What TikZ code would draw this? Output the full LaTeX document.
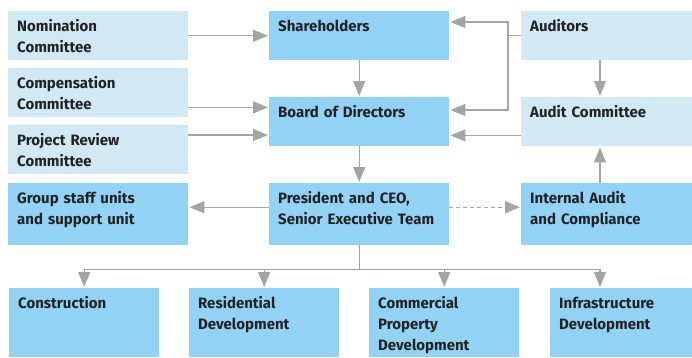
\documentclass[tikz,border=0pt]{standalone}
\usepackage{fontspec}
\setmainfont{Fira Sans}
\usetikzlibrary{arrows.meta, positioning, calc}
\definecolor{unitblue}{HTML}{92D3F5}
\definecolor{paleblue}{HTML}{D1E9F5}
\definecolor{linkgray}{HTML}{A4A4A4}
\definecolor{labelink}{HTML}{222222}

\begin{document}
\begin{tikzpicture}[
    x=1pt, y=-1pt,
    box/.style={anchor=north west, inner xsep=9pt, inner ysep=0pt, align=left, text=labelink,
        font=\bfseries\fontsize{15}{21}\selectfont, text height=20pt, text depth=29pt, text width=162pt},
    unit/.style={box, fill=unitblue},
    board/.style={box, fill=paleblue},
    tall/.style={text depth=42pt},
    leaf/.style={text depth=49pt, text width=132pt},
    link/.style={draw=linkgray, line width=1.3pt},
    arr/.style={link, -{Triangle[length=15pt, width=12pt]}, shorten >=1pt}
]
\useasboundingbox (0,0) rectangle (692,357);
\node[board] (nom) at (8,11) {Nomination\\Committee};
\node[board] (comp) at (8,68) {Compensation\\Committee};
\node[board] (prc) at (8,125) {Project Review\\Committee};
\node[unit, tall] (staff) at (8,183) {Group staff units\\and support unit};
\node[unit] (sh) at (269,11) {Shareholders};
\node[unit] (bod) at (269,97) {Board of Directors};
\node[unit, tall] (ceo) at (269,183) {President and CEO,\\Senior Executive Team};
\node[board, text width=153pt] (aud) at (521,11) {Auditors};
\node[board, text width=153pt] (ac) at (521,97) {Audit Committee};
\node[unit, tall, text width=153pt] (ia) at (521,183) {Internal Audit\\and Compliance};
\node[unit, leaf] (con) at (9,288) {Construction};
\node[unit, leaf] (res) at (189,288) {Residential\\Development};
\node[unit, leaf] (com) at (369,288) {Commercial\\Property\\Development};
\node[unit, leaf, text width=124pt] (inf) at (550,288) {Infrastructure\\Development};

\coordinate (spine) at (600,0);
\coordinate (aj) at ($(aud.west)+(-13,0)$);
\coordinate (bus) at ($(ceo.south)+(0,24)$);

\draw[arr] (nom) -- (sh);
\draw[arr] ([yshift=10pt]comp.south east) -- ([yshift=10pt]comp.south east -| bod.west);
\draw[arr] ([yshift=-10pt]prc.north east) -- ([yshift=-10pt]prc.north east -| bod.west);
\draw[arr] (sh) -- (bod);
\draw[arr] (bod) -- (ceo);
\draw[link] (aud.west) -- (aj);
\draw[arr] (aj) |- ([yshift=-11pt]sh.north east);
\draw[arr] (aj) |- ([yshift=-13pt]bod.north east);
\draw[arr] ([yshift=11pt]ac.south west) -- ([yshift=11pt]bod.south east);
\draw[arr] (aud.south -| spine) -- (ac.north -| spine);
\draw[arr] (ia.north -| spine) -- (ac.south -| spine);
\draw[arr] ([yshift=7pt]ceo.west) -- ([yshift=7pt]staff.east);
\draw[arr, dash pattern=on 4pt off 3pt] ([yshift=7pt]ceo.east) -- ([yshift=7pt]ia.west);
\draw[link] (ceo.south) -- (bus);
\draw[link] (con.north |- bus) -- (bus -| spine);
\foreach \t in {con, res, com}
    \draw[arr] (\t.north |- bus) -- (\t.north);
\draw[arr] (bus -| spine) -- (inf.north -| spine);
\end{tikzpicture}
\end{document}
